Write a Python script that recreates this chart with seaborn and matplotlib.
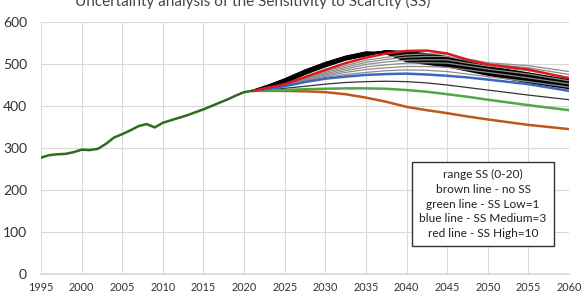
import matplotlib
matplotlib.use("Agg")
import matplotlib.pyplot as plt
import numpy as np
import pandas as pd
import seaborn as sns

# historical data
hist_years = list(range(1995, 2022))
hist_vals = [277, 283, 285, 286, 290, 296, 295, 298, 310, 325, 333, 342, 352, 357, 349,
             360, 366, 372, 378, 385, 392, 400, 408, 416, 425, 433, 436]

# projections, one list per SS value
proj_years = [2021, 2023, 2025, 2027.5, 2030, 2032.5, 2035, 2037.5, 2040, 2042.5,
              2045, 2047.5, 2050, 2055, 2060]
ss0_brown = [436, 436, 436, 435, 433, 428, 420, 410, 398, 390, 383, 375, 368, 355, 345]
ss1_green = [436, 437, 438, 440, 441, 442, 442, 441, 438, 434, 428, 422, 415, 402, 390]
ss2_thin = [436, 439, 442, 447, 452, 456, 458, 459, 458, 455, 450, 444, 438, 426, 415]
ss3_blue = [436, 441, 447, 457, 465, 470, 474, 476, 477, 475, 472, 468, 463, 452, 436]
ss4 = [436, 442, 448, 459, 468, 475, 480, 484, 486, 485, 482, 476, 470, 458, 445]
ss5 = [436, 442, 449, 461, 471, 480, 487, 491, 494, 494, 492, 486, 480, 467, 453]
ss6 = [436, 443, 450, 463, 474, 484, 493, 498, 502, 503, 502, 495, 488, 476, 460]
ss7 = [436, 443, 450, 464, 477, 488, 499, 505, 509, 510, 510, 502, 495, 484, 468]
ss8 = [436, 443, 451, 466, 480, 492, 504, 511, 516, 518, 518, 508, 500, 491, 475]
ss9 = [436, 444, 451, 467, 483, 496, 509, 516, 522, 524, 524, 512, 503, 496, 482]
ss10_red = [436, 444, 452, 469, 486, 502, 515, 525, 531, 532, 525, 510, 499, 487, 466]
ss11 = [436, 445, 455, 476, 494, 510, 520, 531, 529, 524, 517, 505, 494, 478, 462]
ss12 = [436, 445, 456, 477, 495, 511, 521, 531, 527, 521, 514, 503, 492, 476, 460]
ss13 = [436, 446, 457, 478, 496, 512, 522, 531, 524, 518, 512, 500, 490, 474, 458]
ss14 = [436, 446, 458, 479, 497, 513, 523, 530, 521, 515, 509, 498, 487, 471, 456]
ss15 = [436, 447, 459, 480, 498, 514, 524, 530, 518, 512, 507, 496, 485, 469, 454]
ss16 = [436, 447, 460, 481, 499, 515, 525, 529, 516, 510, 504, 493, 483, 467, 451]
ss17 = [436, 448, 461, 482, 500, 515, 526, 528, 513, 507, 502, 491, 481, 465, 449]
ss18 = [436, 448, 462, 483, 501, 516, 527, 527, 511, 505, 499, 489, 478, 462, 447]
ss19 = [436, 449, 463, 484, 502, 517, 527, 526, 508, 502, 497, 486, 476, 460, 445]
ss20 = [436, 449, 464, 485, 503, 518, 528, 525, 506, 500, 494, 484, 474, 456, 442]

gray_lines = [ss4, ss5, ss6, ss7, ss8, ss9]
black_lines = [ss11, ss12, ss13, ss14, ss15, ss16, ss17, ss18, ss19, ss20]

sns.set_theme(style="white")
plt.rcParams['font.family'] = ['Lato', 'DejaVu Sans']

fig = plt.figure(figsize=(5.85, 3.01), dpi=100)
ax = fig.add_axes([41 / 585, 1 - 274 / 301, 528 / 585, 252 / 301])

for s in black_lines:
    sns.lineplot(x=proj_years, y=s, color="black", lw=1.3, ax=ax)
for s in gray_lines:
    sns.lineplot(x=proj_years, y=s, color="#8c8c8c", lw=0.9, ax=ax)
sns.lineplot(x=proj_years, y=ss2_thin, color="#333333", lw=0.9, ax=ax)
sns.lineplot(x=proj_years, y=ss0_brown, color="#c0561b", lw=1.8, ax=ax)
sns.lineplot(x=proj_years, y=ss1_green, color="#4fa845", lw=1.8, ax=ax)
sns.lineplot(x=proj_years, y=ss3_blue, color="#3e64c4", lw=1.8, ax=ax)
sns.lineplot(x=proj_years, y=ss10_red, color="#e0161e", lw=1.8, ax=ax)
sns.lineplot(x=hist_years, y=hist_vals, color="#2f6b1f", lw=1.8, ax=ax)

ax.set_xlim(1995, 2060)
ax.set_ylim(0, 600)
ax.set_xticks(range(1995, 2061, 5))
ax.set_yticks(range(0, 601, 100))
ax.grid(True, color="#d9d9d9", lw=0.8)
for sp in ax.spines.values():
    sp.set_visible(False)
ax.spines['bottom'].set_visible(True)
ax.spines['bottom'].set_color("#d9d9d9")
ax.tick_params(axis='x', labelsize=7.8, length=0, pad=6, colors="#333333")
ax.tick_params(axis='y', labelsize=10, length=0, pad=10, colors="#333333")
ax.set_xlabel("")
ax.set_ylabel("")

fig.text(253 / 585, 1 - 1 / 301, "Uncertainty analysis of the Sensitivity to Scarcity (SS)",
         ha="center", va="center", fontsize=11, color="#444444")

legend_txt = ("range SS (0-20)\nbrown line - no SS\ngreen line - SS Low=1\n"
              "blue line - SS Medium=3\nred line - SS High=10")
fig.text(483 / 585, 1 - 204 / 301, legend_txt, ha="center", va="center", fontsize=8.6,
         linespacing=1.42, color="#222222",
         bbox=dict(boxstyle="square,pad=0.6", fc="white", ec="#333333", lw=1))

fig.savefig("out.png", dpi=100)
